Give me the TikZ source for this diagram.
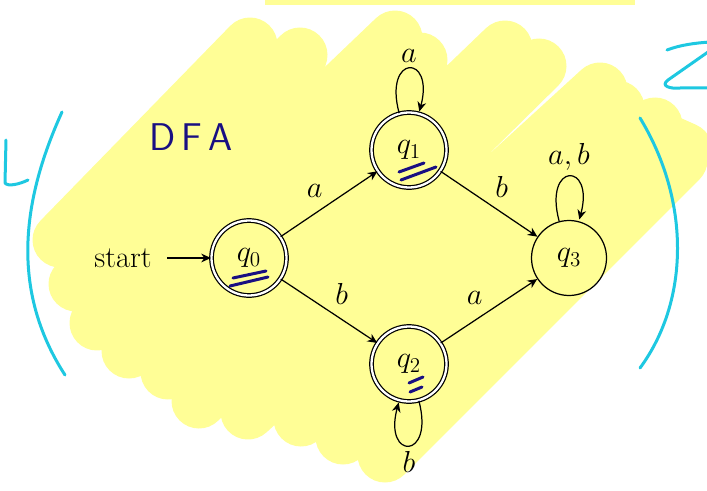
\documentclass[tikz,border=0pt]{standalone}
\usepackage{fontspec}
\usetikzlibrary{arrows.meta}

\definecolor{hlyellow}{RGB}{255,254,150}
\definecolor{inkcyan}{RGB}{30,200,225}
\definecolor{inknavy}{RGB}{25,15,130}

\tikzset{
  qstate/.style={circle,draw,minimum size=15mm,inner sep=0pt,font=\LARGE},
  qaccept/.style={qstate,double,double distance=1.3pt},
  lbl/.style={font=\LARGE},
  hl/.style={hlyellow,line width=11mm,line cap=round},
  pen/.style={inkcyan,line width=0.6mm,line cap=round,line join=round},
  navypen/.style={inknavy,line width=0.6mm,line cap=round}
}

\begin{document}
\begin{tikzpicture}[x=0.2mm,y=-0.2mm,>={Stealth[length=5.5pt,width=5pt]},line width=0.7pt]
			\useasboundingbox (0,0) rectangle (707,490);

			% highlighter
			\fill[hlyellow] (265,0) rectangle (635,5);
			\draw[hl] (60,240) -- (250,45)
				(76,284) -- (300,55)
				(97,323) -- (395,38)
				(129,351) -- (420,60)
				(168,372) -- (505,48)
				(199,401) -- (539,66)
				(248,412) -- (600,90)
				(301,419) -- (617,108)
				(343,437) -- (655,125)
				(385,455) -- (680,160)
				(640,130) -- (685,150);

			% states
			\node[qaccept] (q0) at (249,258) {$q_0$};
			\node[qaccept] (q1) at (409,150) {$q_1$};
			\node[qaccept] (q2) at (409,364) {$q_2$};
			\node[qstate] (q3) at (569,258) {$q_3$};
			\node[lbl] (st) at (123,258) {start};

			% transitions
			\draw[->,shorten <=1.8mm] (st) -- (q0);
			\draw[->] (q0) -- node[auto,lbl] {$a$} (q1);
			\draw[->] (q0) -- node[auto,lbl] {$b$} (q2);
			\draw[->] (q1) -- node[auto,lbl] {$b$} (q3);
			\draw[->] (q2) -- node[auto,lbl] {$a$} (q3);
			\draw[->] (q1) edge[loop above] node[lbl] {$a$} ();
			\draw[->] (q3) edge[loop above] node[lbl] {$a,b$} ();
			\draw[->] (q2) edge[loop below] node[lbl] {$b$} ();

			% notes
			\node[text=inknavy,font=\sffamily\fontsize{22}{24}\selectfont] (dfa) at (191,137) {D\,F\,A};
			\draw[navypen] (233,278) -- (266,271);
			\draw[navypen] (230,286) -- (268,277);
			\draw[navypen] (399,172) -- (424,163);
			\draw[navypen] (436,167) -- (401,180);
			\draw[navypen] (409,383) -- (423,377);
			\draw[navypen] (410,392) -- (422,387);

			\draw[pen] (6,140) -- (5,183) .. controls (8,187) and (20,184) .. (28,180);
			\draw[pen] (62,112) .. controls (22,200) and (10,290) .. (65,375);
			\draw[pen] (640,118) .. controls (690,200) and (690,300) .. (640,368);
			\draw[pen] (667,50) .. controls (680,45) and (695,43) .. (710,42);
			\draw[pen] (708,52) -- (668,80) .. controls (660,86) and (670,89) .. (680,88) -- (710,88);
\end{tikzpicture}
\end{document}
